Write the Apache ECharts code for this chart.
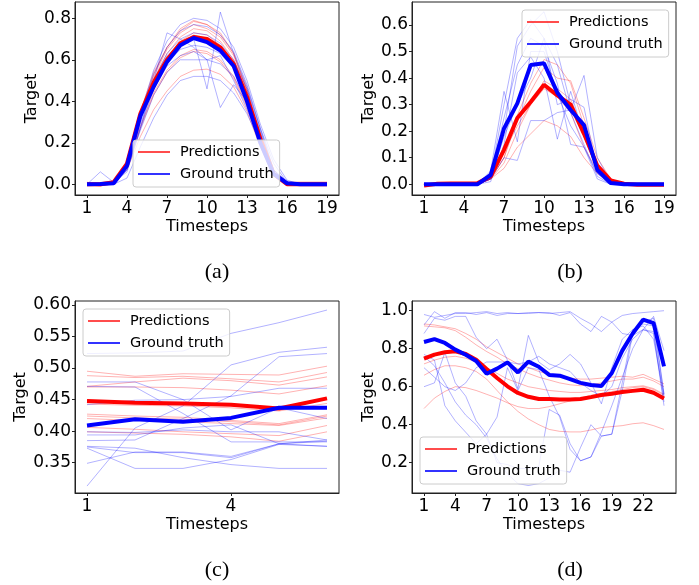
<!DOCTYPE html>
<html><head><meta charset="utf-8">
<script src="https://cdn.jsdelivr.net/npm/echarts@6/dist/echarts.min.js"></script>
<style>html,body{margin:0;padding:0;background:#fff}#c{width:699px;height:585px}</style>
</head><body><div id="c"></div><script>
// ---------- data ----------
const stepsA = [1,2,3,4,5,6,7,8,9,10,11,12,13,14,15,16,17,18,19];
const stepsB = [1,2,3,4,5,6,7,8,9,10,11,12,13,14,15,16,17,18,19];
const stepsC = [1,2,3,4,5,6];
const stepsD = [1,2,3,4,5,6,7,8,9,10,11,12,13,14,15,16,17,18,19,20,21,22,23,24];

const xTicksA = [1,4,7,10,13,16,19];
const xTicksB = [1,4,7,10,13,16,19];
const xTicksC = [1,4];
const xTicksD = [1,4,7,10,13,16,19,22];
const yTicksA = [0,0.2,0.4,0.6,0.8];
const yTicksB = [0,0.1,0.2,0.3,0.4,0.5,0.6];
const yTicksC = [0.35,0.40,0.45,0.50,0.55,0.60];
const yTicksD = [0.2,0.4,0.6,0.8,1.0];

const aPredMean = [0,0,0.01,0.1,0.34,0.49,0.6,0.68,0.71,0.7,0.66,0.58,0.42,0.22,0.05,0,0,0,0];
const aTrueMean = [0,0.002,0.005,0.09,0.33,0.47,0.59,0.67,0.705,0.685,0.645,0.57,0.4,0.2,0.05,0.005,0,0,0];
const aPredThin = [
 [0,0,0.01,0.1,0.35,0.54,0.66,0.75,0.79,0.77,0.73,0.63,0.46,0.24,0.06,0.01,0.01,0.01,0.01],
 [0,0,0.01,0.1,0.34,0.53,0.66,0.74,0.785,0.77,0.72,0.63,0.45,0.23,0.05,0.01,0,0,0],
 [0.01,0,0.01,0.1,0.34,0.52,0.65,0.73,0.77,0.75,0.71,0.62,0.45,0.23,0.05,0,0,0,0],
 [0,0,0.01,0.1,0.33,0.51,0.63,0.71,0.75,0.74,0.69,0.6,0.44,0.22,0.05,0.01,0.01,0.01,0.01],
 [0,-0.01,0.01,0.09,0.32,0.5,0.61,0.69,0.73,0.72,0.67,0.58,0.42,0.21,0.05,0,0,0,0],
 [0,0,0.01,0.09,0.31,0.49,0.61,0.68,0.72,0.7,0.66,0.57,0.42,0.21,0.05,0,0,0,0],
 [0,0,0.01,0.08,0.28,0.44,0.55,0.62,0.65,0.64,0.6,0.52,0.38,0.19,0.04,0,0,0,0],
 [0,0,0.01,0.08,0.27,0.43,0.54,0.61,0.64,0.63,0.59,0.51,0.37,0.19,0.04,0,0,0,0],
 [0,0,0.01,0.07,0.23,0.36,0.45,0.52,0.55,0.555,0.53,0.47,0.35,0.18,0.04,0,0,0,0]
];
const aTrueThin = [
 [0,0,0.01,0.1,0.34,0.55,0.69,0.77,0.8,0.79,0.75,0.66,0.5,0.29,0.12,0.02,0,0,0],
 [0,0,0.01,0.1,0.33,0.53,0.66,0.74,0.77,0.76,0.72,0.64,0.48,0.27,0.1,0.01,0,0,0],
 [0,0,0,0.09,0.31,0.5,0.63,0.7,0.73,0.72,0.68,0.6,0.46,0.26,0.07,0.01,0,0,0],
 [0,0,0,0.08,0.29,0.47,0.59,0.65,0.67,0.66,0.63,0.56,0.43,0.25,0.07,0.01,0,0,0],
 [0,0,0,0.07,0.26,0.43,0.54,0.6,0.6,0.6,0.58,0.52,0.4,0.23,0.06,0.01,0,0,0],
 [0,0,0,0.03,0.18,0.32,0.43,0.5,0.52,0.52,0.5,0.44,0.34,0.2,0.05,0.01,0,0,0],
 [0,0.06,0.01,0.06,0.27,0.5,0.73,0.7,0.66,0.6,0.62,0.5,0.36,0.2,0.05,0,0,0,0],
 [0,0,0,0.08,0.3,0.5,0.62,0.68,0.7,0.46,0.83,0.63,0.47,0.27,0.07,0.01,0,0,0],
 [0,0,0,0.07,0.27,0.46,0.57,0.62,0.64,0.6,0.37,0.48,0.4,0.22,0.05,0.01,0,0,0]
];

const bPredMean = [-0.005,0.002,0.003,0.003,0.004,0.03,0.13,0.25,0.31,0.375,0.335,0.3,0.19,0.07,0.015,0.002,-0.002,-0.002,-0.002];
const bTrueMean = [0,0,0,0,0,0.035,0.21,0.305,0.449,0.456,0.345,0.28,0.223,0.054,0.005,0,0,0,0];
const bPredThin = [
 [0,0,0,0,0,0.02,0.1,0.26,0.38,0.47,0.45,0.38,0.22,0.08,0.02,0,0,0,0],
 [0,0,0,0,0,0.02,0.1,0.24,0.35,0.44,0.4,0.39,0.25,0.1,0.02,0,0,0,0],
 [0,0,0,0,0,0.02,0.08,0.2,0.3,0.39,0.36,0.32,0.2,0.07,0.01,0,0,0,0],
 [0,0,0,0,0,0.02,0.06,0.14,0.19,0.24,0.22,0.18,0.1,0.04,0.01,0,0,0,0],
 [0,0,0,0,0,0.03,0.12,0.22,0.3,0.36,0.33,0.27,0.14,0.05,0.01,0,0,0,0]
];
const bTrueThin = [
 [0,0,0,0,0,0.02,0.2,0.52,0.6,0.65,0.5,0.3,0.2,0.05,0.01,0,0,0,0],
 [0,0,0,0,0,0.03,0.3,0.55,0.62,0.55,0.45,0.27,0.15,0.03,0,0,0,0,0],
 [0,0,0,0,0,0.05,0.35,0.16,0.5,0.5,0.34,0.22,0.14,0.04,0,0,0,0,0],
 [0,0,0,0,0,0.02,0.1,0.09,0.24,0.24,0.27,0.28,0.41,0.1,0.01,0,0,0,0],
 [0,0,0,0,0,0.01,0.15,0.42,0.48,0.4,0.17,0.35,0.18,0.05,0,0,0,0,0],
 [0,0,0,0,0,0.03,0.25,0.45,0.55,0.52,0.38,0.15,0.14,0.02,0,0,0,0,0],
 [0,0,0,0,0,0.02,0.18,0.3,0.4,0.55,0.3,0.32,0.29,0.05,0,0,0,0,0]
];

const cPredMean = [0.448,0.445,0.444,0.442,0.436,0.452];
const cTrueMean = [0.409,0.419,0.415,0.421,0.437,0.437];
const cPredThin = [
 [0.495,0.487,0.491,0.490,0.489,0.503],
 [0.488,0.485,0.487,0.483,0.478,0.493],
 [0.471,0.478,0.484,0.480,0.473,0.486],
 [0.470,0.470,0.469,0.465,0.459,0.472],
 [0.443,0.441,0.440,0.437,0.432,0.444],
 [0.427,0.424,0.422,0.417,0.412,0.426],
 [0.424,0.421,0.419,0.415,0.410,0.424],
 [0.420,0.417,0.415,0.412,0.409,0.421],
 [0.406,0.403,0.399,0.396,0.393,0.409],
 [0.399,0.397,0.395,0.391,0.384,0.399]
];
const cTrueThin = [
 [0.523,0.524,0.527,0.555,0.572,0.592],
 [0.313,0.405,0.440,0.505,0.525,0.533],
 [0.385,0.386,0.420,0.456,0.518,0.523],
 [0.478,0.478,0.450,0.402,0.437,0.420],
 [0.442,0.449,0.450,0.455,0.468,0.468],
 [0.471,0.470,0.428,0.383,0.383,0.383],
 [0.399,0.398,0.402,0.399,0.399,0.386],
 [0.394,0.394,0.405,0.410,0.380,0.376],
 [0.375,0.366,0.366,0.358,0.380,0.384],
 [0.349,0.367,0.367,0.360,0.380,0.386],
 [0.373,0.341,0.341,0.355,0.379,0.376],
 [0.376,0.373,0.358,0.347,0.341,0.341]
];

const dPredMean = [0.748,0.769,0.781,0.786,0.772,0.742,0.693,0.646,0.602,0.567,0.547,0.535,0.535,0.532,0.533,0.535,0.545,0.556,0.563,0.572,0.578,0.584,0.568,0.538];
const dTrueMean = [0.835,0.85,0.83,0.795,0.768,0.735,0.668,0.695,0.728,0.675,0.732,0.705,0.662,0.658,0.64,0.62,0.609,0.604,0.672,0.79,0.88,0.953,0.935,0.707];
const dPredThin = [
 [0.93,0.925,0.915,0.905,0.88,0.85,0.81,0.78,0.75,0.72,0.70,0.68,0.665,0.655,0.645,0.64,0.64,0.645,0.65,0.655,0.65,0.665,0.64,0.615],
 [0.92,0.915,0.91,0.895,0.86,0.82,0.785,0.755,0.72,0.695,0.67,0.65,0.635,0.62,0.61,0.605,0.61,0.62,0.63,0.64,0.64,0.65,0.63,0.60],
 [0.72,0.74,0.755,0.76,0.75,0.73,0.70,0.67,0.64,0.62,0.60,0.59,0.58,0.575,0.57,0.57,0.575,0.58,0.585,0.595,0.60,0.605,0.59,0.56],
 [0.66,0.69,0.71,0.71,0.70,0.68,0.64,0.58,0.52,0.47,0.43,0.40,0.375,0.365,0.362,0.362,0.372,0.385,0.39,0.395,0.405,0.41,0.395,0.375],
 [0.485,0.54,0.575,0.60,0.595,0.58,0.56,0.54,0.515,0.495,0.485,0.485,0.495,0.51,0.525,0.54,0.555,0.565,0.575,0.585,0.595,0.60,0.585,0.555]
];
const dTrueThin = [
 [0.98,0.965,0.975,0.985,0.985,0.99,0.995,0.985,0.99,0.985,0.99,0.99,0.985,0.99,0.995,0.96,0.93,0.89,0.94,0.975,0.985,0.99,0.995,1.0],
 [0.925,0.995,0.96,0.99,0.99,0.98,0.99,0.975,0.985,0.985,0.985,0.99,0.99,0.975,0.99,0.93,0.89,0.97,0.94,0.88,0.87,0.90,0.97,0.79],
 [0.77,0.74,0.50,0.42,0.36,0.30,0.35,0.20,0.19,0.17,0.17,0.18,0.48,0.45,0.30,0.21,0.23,0.34,0.35,0.62,0.90,0.93,0.92,0.56],
 [0.60,0.62,0.78,0.62,0.55,0.42,0.35,0.44,0.70,0.58,0.70,0.69,0.55,0.44,0.27,0.21,0.23,0.36,0.50,0.65,0.80,0.90,0.88,0.50],
 [0.88,0.96,0.95,0.97,0.97,0.86,0.80,0.85,0.74,0.59,0.87,0.73,0.69,0.72,0.77,0.72,0.62,0.51,0.70,0.85,0.90,0.92,0.85,0.55],
 [0.76,0.71,0.62,0.52,0.45,0.40,0.33,0.22,0.14,0.09,0.08,0.09,0.12,0.16,0.15,0.28,0.40,0.34,0.35,0.58,0.88,0.94,0.96,0.56],
 [0.70,0.65,0.60,0.58,0.62,0.70,0.73,0.73,0.73,0.72,0.73,0.76,0.72,0.70,0.68,0.62,0.58,0.55,0.60,0.75,0.85,0.90,0.89,0.52]
];

const captions = ['(a)','(b)','(c)','(d)'];
const xName = 'Timesteps';
const yName = 'Target';
const predName = 'Predictions';
const trueName = 'Ground truth';

// ---------- layout ----------
const FONT = 'DejaVu Sans';
const panels = [
 {steps:stepsA, xt:xTicksA, yt:yTicksA, dec:1, pm:aPredMean, tm:aTrueMean, pt:aPredThin, tt:aTrueThin,
  grid:{left:75,top:2,width:264,height:193}, x:[0.1,19.9], y:[-0.0516,0.8786], yGap:34, leg:{left:133,top:140}, cap:[217,272]},
 {steps:stepsB, xt:xTicksB, yt:yTicksB, dec:1, pm:bPredMean, tm:bTrueMean, pt:bPredThin, tt:bTrueThin,
  grid:{left:412,top:2,width:264,height:193}, x:[0.1,19.9], y:[-0.0403,0.6866], yGap:35, leg:{left:522,top:10}, cap:[570,272]},
 {steps:stepsC, xt:xTicksC, yt:yTicksC, dec:2, pm:cPredMean, tm:cTrueMean, pt:cPredThin, tt:cTrueThin,
  grid:{left:75,top:301,width:264,height:192}, x:[0.75,6.25], y:[0.302,0.6063], yGap:44, leg:{left:83,top:309}, cap:[217,570]},
 {steps:stepsD, xt:xTicksD, yt:yTicksD, dec:1, pm:dPredMean, tm:dTrueMean, pt:dPredThin, tt:dTrueThin,
  grid:{left:412,top:301,width:264,height:192}, x:[-0.15,25.15], y:[0.0405,1.051], yGap:35, leg:{left:420,top:437}, cap:[570,570]}
];

const nameTxt = {fontSize:16, fontFamily:FONT, color:'#000'};
const tickTxt = {fontSize:17, fontFamily:FONT, color:'#000'};
const grid = [], xAxis = [], yAxis = [], series = [], legend = [], graphic = [];

function line(i, steps, vals, name, color, width) {
  return {type:'line', name, xAxisIndex:i, yAxisIndex:i, data: steps.map((s,k)=>[s, vals[k]]),
    showSymbol:false, symbol:'none', silent:true, animation:false, clip:true,
    emphasis:{disabled:true}, lineStyle:{color, width}, itemStyle:{color}};
}

panels.forEach((p,i)=>{
  grid.push(Object.assign({show:true, borderColor:'#222', borderWidth:1, backgroundColor:'#fff', containLabel:false}, p.grid));
  xAxis.push({type:'value', gridIndex:i, min:p.x[0], max:p.x[1],
    axisLine:{show:true, onZero:false, lineStyle:{color:'#222', width:1}},
    axisTick:{show:true, length:3, lineStyle:{color:'#222'}, customValues:p.xt},
    axisLabel:Object.assign({customValues:p.xt, margin:5}, tickTxt),
    splitLine:{show:false},
    name:xName, nameLocation:'middle', nameGap:24, nameTextStyle:nameTxt});
  yAxis.push({type:'value', gridIndex:i, min:p.y[0], max:p.y[1],
    axisLine:{show:true, onZero:false, lineStyle:{color:'#222', width:1}},
    axisTick:{show:true, length:3, lineStyle:{color:'#222'}, customValues:p.yt},
    axisLabel:Object.assign({customValues:p.yt, margin:4, formatter:v=>v.toFixed(p.dec)}, tickTxt),
    splitLine:{show:false},
    name:yName, nameLocation:'middle', nameGap:p.yGap, nameTextStyle:nameTxt});
  p.pt.forEach(v=>series.push(line(i, p.steps, v, predName, 'rgba(255,0,0,0.3)', 1)));
  p.tt.forEach(v=>series.push(line(i, p.steps, v, trueName, 'rgba(0,0,255,0.3)', 1)));
  series.push(line(i, p.steps, p.pm, predName, '#ff0000', 4));
  series.push(line(i, p.steps, p.tm, trueName, '#0000ff', 4));
  legend.push({left:p.leg.left, top:p.leg.top, orient:'vertical', icon:'rect', itemWidth:32, itemHeight:2, itemGap:6,
    padding:[4,6,5,5], backgroundColor:'rgba(255,255,255,0.8)', borderColor:'#cccccc', borderWidth:1, borderRadius:3,
    selectedMode:false,
    textStyle:{fontSize:14.5, fontFamily:FONT, color:'#000', lineHeight:16, padding:[0,0,0,5]},
    data:[{name:predName, itemStyle:{color:'rgba(255,0,0,0.7)'}}, {name:trueName, itemStyle:{color:'rgba(0,0,255,0.8)'}}]});
  graphic.push({type:'text', x:p.cap[0], y:p.cap[1], style:{text:captions[i], fontSize:22, fontFamily:'Liberation Serif', fill:'#000', align:'center', verticalAlign:'middle'}});
});

const chart = echarts.init(document.getElementById('c'), null, {renderer:'canvas'});
chart.setOption({animation:false, backgroundColor:'#fff', grid, xAxis, yAxis, series, legend, graphic});
</script></body></html>
